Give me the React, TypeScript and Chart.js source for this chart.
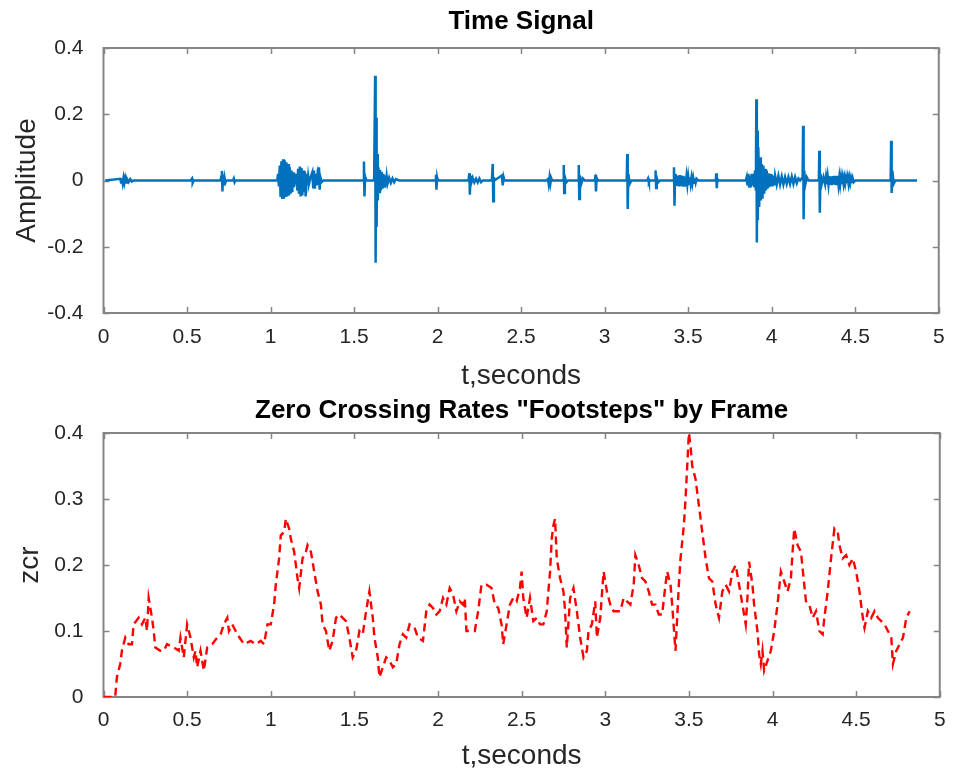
import React, { useEffect, useRef } from "react";
import { Chart, registerables } from "chart.js";

Chart.register(...registerables);

// ---- Time signal samples (seconds, amplitude) ----
const sigT = [
  0.01, 0.10, 0.105, 0.11, 0.115, 0.12, 0.125, 0.13, 0.135, 0.14, 0.15, 0.16, 0.17, 0.18,
  0.52, 0.53, 0.534, 0.54, 0.70, 0.705, 0.709, 0.712, 0.716, 0.72, 0.725, 0.73, 0.735, 0.775, 0.78, 0.785, 0.79,
  1.04, 1.045, 1.05, 1.055, 1.06, 1.065, 1.07, 1.075, 1.08, 1.085, 1.09, 1.095, 1.10, 1.105, 1.11, 1.115, 1.12, 1.125, 1.13, 1.135, 1.14, 1.145, 1.15,
  1.155, 1.16, 1.165, 1.17, 1.175, 1.18, 1.185, 1.19, 1.195, 1.20, 1.205, 1.21, 1.215, 1.22, 1.225, 1.23, 1.24, 1.25, 1.255, 1.26, 1.265, 1.27, 1.275, 1.28, 1.285, 1.29, 1.294, 1.298, 1.305, 1.315,
  1.555, 1.559, 1.562, 1.566, 1.57, 1.62, 1.626, 1.629, 1.632, 1.635, 1.638, 1.642, 1.646, 1.65, 1.655, 1.66, 1.665, 1.67, 1.675, 1.68, 1.685, 1.69, 1.695, 1.70, 1.71, 1.72, 1.73, 1.74, 1.75, 1.77,
  1.985, 1.99, 1.993, 1.997, 2.0, 2.185, 2.19, 2.193, 2.197, 2.20, 2.21, 2.22, 2.23, 2.24, 2.25, 2.26, 2.27, 2.325, 2.33, 2.333, 2.337, 2.34, 2.385, 2.39, 2.395, 2.40,
  2.655, 2.66, 2.665, 2.67, 2.675, 2.68, 2.685, 2.752, 2.755, 2.758, 2.762, 2.77, 2.78, 2.842, 2.845, 2.848, 2.852, 2.86, 2.87, 2.88, 2.942, 2.945, 2.948, 2.952, 2.96,
  3.132, 3.135, 3.138, 3.142, 3.15, 3.16, 3.255, 3.26, 3.265, 3.27, 3.302, 3.305, 3.308, 3.312, 3.32, 3.33,
  3.412, 3.415, 3.418, 3.422, 3.425, 3.43, 3.435, 3.44, 3.445, 3.45, 3.455, 3.46, 3.465, 3.47, 3.475, 3.48,
  3.485, 3.49, 3.495, 3.50, 3.505, 3.51, 3.515, 3.52, 3.525, 3.53, 3.535, 3.54, 3.545, 3.55, 3.56,
  3.665, 3.668, 3.671, 3.675, 3.68, 3.845, 3.85, 3.855, 3.86, 3.865, 3.87, 3.875, 3.88, 3.885, 3.89, 3.895, 3.90,
  3.905, 3.908, 3.911, 3.914, 3.917, 3.92, 3.925, 3.93, 3.935, 3.94, 3.945, 3.95, 3.955, 3.96, 3.965, 3.97, 3.975, 3.98, 3.985, 3.99, 3.995, 4.00, 4.005, 4.01, 4.015, 4.02,
  4.03, 4.04, 4.05, 4.06, 4.07, 4.08, 4.09, 4.10, 4.11, 4.12, 4.13, 4.14, 4.15, 4.16, 4.17,
  4.185, 4.188, 4.191, 4.195, 4.20, 4.21, 4.22, 4.282, 4.285, 4.288, 4.292, 4.30, 4.31, 4.32,
  4.325, 4.33, 4.335, 4.34, 4.345, 4.35, 4.355, 4.36, 4.365, 4.37, 4.375, 4.38, 4.385, 4.39, 4.395, 4.40, 4.405, 4.41,
  4.415, 4.42, 4.425, 4.43, 4.435, 4.44, 4.445, 4.45, 4.455, 4.46, 4.465, 4.47, 4.475, 4.48, 4.485, 4.49, 4.50,
  4.712, 4.715, 4.718, 4.722, 4.73, 4.74, 4.87,
];

const sigV = [
  0, 0.005, -0.006, 0.007, -0.008, 0.008, -0.007, 0.007, -0.006, 0.005, -0.005, 0.004, -0.003, 0,
  0, 0.006, -0.007, 0, 0, 0.012, 0.029, -0.033, 0.018, -0.015, 0.008, -0.006, 0, 0, 0.006, -0.005, 0,
  0, 0.02, -0.018, 0.045, -0.05, 0.058, -0.056, 0.064, -0.055, 0.06, -0.05, 0.055, -0.048, 0.05, -0.045, 0.04, -0.04, 0.03, -0.035, 0.025, -0.02, 0.015, -0.012,
  0.02, -0.03, 0.035, -0.04, 0.042, -0.048, 0.038, -0.045, 0.03, -0.035, 0.028, -0.048, 0.02, -0.015, 0.012, -0.01, 0.01, 0.025, -0.02, 0.03, -0.025, 0.02, -0.015, 0.012, -0.01, 0.04, -0.028, 0.01, -0.005, 0,
  0, 0.057, -0.048, 0.01, 0, 0, 0.316, -0.248, 0.19, -0.14, 0.08, -0.06, 0.04, -0.035, 0.032, -0.03, 0.026, -0.025, 0.02, -0.018, 0.016, -0.015, 0.012, -0.01, 0.008, -0.007, 0.006, -0.005, 0.004, 0,
  0, 0.017, -0.028, 0.008, 0, 0, 0.022, -0.043, 0.015, -0.01, 0.008, -0.006, 0.005, -0.006, 0.006, -0.005, 0, 0, 0.05, -0.063, 0.01, 0, 0.015, -0.015, 0.01, 0,
  0, 0.008, -0.01, 0.01, -0.009, 0.007, 0, 0, 0.047, -0.038, 0.01, -0.006, 0, 0, 0.047, -0.056, 0.015, -0.01, 0.006, 0, 0, 0.017, -0.033, 0.008, 0,
  0, 0.08, -0.086, 0.02, -0.01, 0, 0, 0.006, -0.005, 0, 0, 0.03, -0.023, 0.008, -0.006, 0,
  0, 0.04, -0.076, 0.02, -0.015, 0.014, -0.016, 0.015, -0.018, 0.016, -0.017, 0.015, -0.018, 0.014, -0.015, 0.012,
  -0.014, 0.012, -0.012, 0.012, -0.01, 0.01, -0.01, 0.009, -0.009, 0.008, -0.007, 0.007, -0.006, 0.005, 0,
  0, 0.022, -0.023, 0.005, 0, 0, 0.01, -0.015, 0.02, -0.018, 0.015, -0.02, 0.02, -0.015, 0.02, -0.02, 0.03,
  -0.03, 0.245, -0.187, 0.15, -0.12, 0.1, -0.08, 0.07, -0.06, 0.05, -0.055, 0.045, -0.04, 0.035, -0.03, 0.03, -0.025, 0.022, -0.02, 0.02, -0.018, 0.018, -0.018, 0.015, -0.015, 0.015,
  -0.012, 0.014, -0.012, 0.012, -0.012, 0.01, -0.01, 0.01, -0.01, 0.012, -0.01, 0.01, -0.008, 0.006, 0,
  0.01, 0.165, -0.117, 0.03, -0.015, 0.01, 0, 0, 0.09, -0.097, 0.02, -0.01, 0.01, -0.012,
  0.01, -0.011, 0.012, -0.012, 0.013, -0.013, 0.012, -0.014, 0.013, -0.012, 0.014, -0.013, 0.014, -0.014, 0.012, -0.013, 0.011, -0.012,
  0.01, -0.011, 0.009, -0.01, 0.008, -0.009, 0.008, -0.008, 0.009, -0.01, 0.008, -0.008, 0.007, -0.007, 0.006, -0.005, 0,
  0, 0.12, -0.038, 0.03, -0.01, 0, 0,
];

// ---- Zero crossing rate per frame (frame time in seconds, rate) ----
const zcrT = [
  0.00, 0.07, 0.08, 0.10, 0.11, 0.13, 0.15, 0.17, 0.18, 0.21,
  0.23, 0.25, 0.26, 0.27, 0.29, 0.30, 0.31, 0.34, 0.36, 0.38,
  0.42, 0.45, 0.46, 0.48, 0.50, 0.52, 0.54, 0.55, 0.56, 0.58,
  0.60, 0.62, 0.65, 0.68, 0.70, 0.72, 0.74, 0.75, 0.77, 0.80,
  0.84, 0.88, 0.91, 0.94, 0.96, 0.98, 1.00, 1.02, 1.03, 1.05,
  1.06, 1.08, 1.09, 1.11, 1.12, 1.14, 1.16, 1.17, 1.19, 1.21,
  1.22, 1.24, 1.26, 1.28, 1.30, 1.31, 1.33, 1.35, 1.37, 1.39,
  1.41, 1.43, 1.45, 1.47, 1.49, 1.51, 1.53, 1.55, 1.57, 1.59,
  1.61, 1.62, 1.64, 1.65, 1.67, 1.69, 1.71, 1.73, 1.75, 1.77,
  1.79, 1.81, 1.83, 1.86, 1.88, 1.91, 1.93, 1.95, 1.97, 1.99,
  2.01, 2.03, 2.05, 2.07, 2.09, 2.11, 2.13, 2.15, 2.16, 2.17,
  2.20, 2.22, 2.24, 2.26, 2.29, 2.32, 2.34, 2.36, 2.38, 2.39,
  2.41, 2.43, 2.45, 2.47, 2.49, 2.50, 2.51, 2.53, 2.55, 2.57,
  2.59, 2.61, 2.63, 2.65, 2.67, 2.68, 2.69, 2.70, 2.71, 2.73,
  2.75, 2.76, 2.77, 2.79, 2.81, 2.83, 2.85, 2.87, 2.89, 2.90,
  2.92, 2.94, 2.95, 2.97, 2.99, 3.01, 3.03, 3.05, 3.07, 3.09,
  3.11, 3.13, 3.15, 3.17, 3.18, 3.20, 3.22, 3.24, 3.26, 3.28,
  3.30, 3.32, 3.34, 3.36, 3.37, 3.39, 3.40, 3.42, 3.44, 3.45,
  3.47, 3.48, 3.49, 3.50, 3.51, 3.52, 3.54, 3.56, 3.58, 3.60,
  3.62, 3.64, 3.66, 3.68, 3.70, 3.72, 3.74, 3.76, 3.78, 3.80,
  3.82, 3.84, 3.85, 3.86, 3.88, 3.89, 3.91, 3.92, 3.93, 3.94,
  3.95, 3.97, 3.99, 4.01, 4.03, 4.05, 4.07, 4.09, 4.11, 4.12,
  4.13, 4.15, 4.17, 4.19, 4.20, 4.22, 4.24, 4.26, 4.28, 4.30,
  4.31, 4.33, 4.35, 4.37, 4.39, 4.40, 4.42, 4.44, 4.46, 4.48,
  4.50, 4.52, 4.54, 4.55, 4.57, 4.59, 4.61, 4.63, 4.65, 4.67,
  4.69, 4.71, 4.72, 4.74, 4.76, 4.78, 4.80, 4.82,
];

const zcrV = [
  0, 0, 0.03, 0.05, 0.07, 0.09, 0.08, 0.08, 0.11, 0.12,
  0.11, 0.12, 0.10, 0.15, 0.12, 0.10, 0.075, 0.07, 0.07, 0.08,
  0.075, 0.07, 0.09, 0.06, 0.11, 0.09, 0.06, 0.07, 0.045, 0.07,
  0.04, 0.075, 0.08, 0.09, 0.095, 0.11, 0.12, 0.10, 0.11, 0.095,
  0.08, 0.085, 0.08, 0.085, 0.08, 0.11, 0.11, 0.14, 0.17, 0.21,
  0.245, 0.25, 0.27, 0.255, 0.24, 0.22, 0.18, 0.165, 0.21, 0.22,
  0.23, 0.22, 0.19, 0.16, 0.14, 0.11, 0.10, 0.07, 0.085, 0.12,
  0.125, 0.12, 0.115, 0.09, 0.06, 0.07, 0.10, 0.095, 0.13, 0.16,
  0.12, 0.09, 0.06, 0.03, 0.045, 0.06, 0.055, 0.045, 0.05, 0.08,
  0.095, 0.09, 0.11, 0.105, 0.09, 0.085, 0.13, 0.14, 0.135, 0.125,
  0.13, 0.15, 0.14, 0.165, 0.155, 0.13, 0.145, 0.14, 0.15, 0.10,
  0.10, 0.10, 0.13, 0.17, 0.17, 0.165, 0.14, 0.135, 0.11, 0.08,
  0.11, 0.14, 0.15, 0.145, 0.165, 0.19, 0.15, 0.12, 0.15, 0.115,
  0.12, 0.11, 0.11, 0.13, 0.19, 0.24, 0.26, 0.27, 0.21, 0.18,
  0.16, 0.13, 0.075, 0.15, 0.165, 0.13, 0.09, 0.06, 0.07, 0.10,
  0.11, 0.145, 0.09, 0.12, 0.19, 0.16, 0.14, 0.13, 0.13, 0.13,
  0.15, 0.145, 0.14, 0.17, 0.215, 0.20, 0.18, 0.175, 0.16, 0.14,
  0.14, 0.125, 0.125, 0.17, 0.19, 0.17, 0.14, 0.07, 0.17, 0.21,
  0.26, 0.30, 0.35, 0.40, 0.38, 0.35, 0.33, 0.29, 0.25, 0.21,
  0.18, 0.175, 0.14, 0.12, 0.16, 0.17, 0.16, 0.19, 0.20, 0.17,
  0.14, 0.11, 0.15, 0.205, 0.17, 0.14, 0.10, 0.065, 0.05, 0.07,
  0.04, 0.055, 0.07, 0.10, 0.14, 0.19, 0.175, 0.16, 0.18, 0.22,
  0.255, 0.23, 0.22, 0.17, 0.145, 0.14, 0.12, 0.13, 0.10, 0.095,
  0.12, 0.16, 0.21, 0.255, 0.25, 0.23, 0.21, 0.215, 0.20, 0.21,
  0.19, 0.16, 0.12, 0.105, 0.13, 0.12, 0.13, 0.12, 0.115, 0.11,
  0.10, 0.09, 0.05, 0.07, 0.08, 0.09, 0.12, 0.13,
];

// ---- Axis ticks ----
const timeTicks = [0, 0.5, 1, 1.5, 2, 2.5, 3, 3.5, 4, 4.5, 5];
const ampTicks = [-0.4, -0.2, 0, 0.2, 0.4];
const zcrTicks = [0, 0.1, 0.2, 0.3, 0.4];

const FONT = "'Liberation Sans', Arial, Helvetica, sans-serif";
const TEXT = "#262626";
const FRAME = "#858585";
const SIGNAL_BLUE = "#0072BD";
const ZCR_RED = "#FF0000";

// Axes box with inward-pointing ticks on all four sides (drawn under the data)
const boxPlugin = {
  id: "axesBox",
  beforeDatasetsDraw(chart: any) {
    const { ctx, chartArea: a, scales } = chart;
    const len = 6;
    ctx.save();
    ctx.strokeStyle = FRAME;
    ctx.lineWidth = 1.5;
    ctx.beginPath();
    for (const tk of scales.x.ticks) {
      const px = Math.round(scales.x.getPixelForValue(tk.value)) + 0.5;
      ctx.moveTo(px, a.bottom);
      ctx.lineTo(px, a.bottom - len);
      ctx.moveTo(px, a.top);
      ctx.lineTo(px, a.top + len);
    }
    for (const tk of scales.y.ticks) {
      const py = Math.round(scales.y.getPixelForValue(tk.value)) + 0.5;
      ctx.moveTo(a.left, py);
      ctx.lineTo(a.left + len, py);
      ctx.moveTo(a.right, py);
      ctx.lineTo(a.right - len, py);
    }
    ctx.stroke();
    ctx.lineWidth = 2;
    ctx.strokeRect(a.left, a.top, a.right - a.left, a.bottom - a.top);
    ctx.restore();
  },
};

const tickSetter = (values: number[]) => (scale: any) => {
  scale.ticks = values.map((v) => ({ value: v }));
};

interface PanelSpec {
  title: string;
  titlePad: { top: number; bottom: number };
  xAxisHeight: number;
  xTickPad: number;
  xTitlePadBottom: number;
  yLabel: string;
  yTitlePad: number;
  yMin: number;
  yMax: number;
  yTicks: number[];
}

function buildOptions(p: PanelSpec): any {
  return {
    animation: false,
    responsive: false,
    maintainAspectRatio: false,
    events: [],
    layout: { padding: { top: 0, right: 11.5, bottom: 0, left: 0 } },
    plugins: {
      legend: { display: false },
      tooltip: { enabled: false },
      title: {
        display: true,
        text: p.title,
        fullSize: false,
        color: "#000",
        font: { family: FONT, size: 26, weight: "bold", lineHeight: 1.2 },
        padding: p.titlePad,
      },
    },
    scales: {
      x: {
        type: "linear",
        min: 0,
        max: 5,
        afterBuildTicks: tickSetter(timeTicks),
        afterFit: (s: any) => {
          s.height = p.xAxisHeight;
        },
        grid: { display: false, drawTicks: false },
        border: { display: false },
        ticks: {
          padding: p.xTickPad,
          color: TEXT,
          maxRotation: 0,
          autoSkip: false,
          font: { family: FONT, size: 21, lineHeight: 1.2 },
          callback: (v: number) => String(v),
        },
        title: {
          display: true,
          text: "t,seconds",
          color: TEXT,
          font: { family: FONT, size: 28, lineHeight: 1.2 },
          padding: { top: 0, bottom: p.xTitlePadBottom },
        },
      },
      y: {
        type: "linear",
        min: p.yMin,
        max: p.yMax,
        afterBuildTicks: tickSetter(p.yTicks),
        afterFit: (s: any) => {
          s.width = 103.5;
        },
        grid: { display: false, drawTicks: false },
        border: { display: false },
        ticks: {
          padding: 20,
          color: TEXT,
          autoSkip: false,
          font: { family: FONT, size: 21, lineHeight: 1.2 },
          callback: (v: number) => String(v),
        },
        title: {
          display: true,
          text: p.yLabel,
          color: TEXT,
          font: { family: FONT, size: 28, lineHeight: 1.2 },
          padding: { top: p.yTitlePad, bottom: 0 },
        },
      },
    },
  };
}

export default function App() {
  const topRef = useRef<HTMLCanvasElement | null>(null);
  const bottomRef = useRef<HTMLCanvasElement | null>(null);

  useEffect(() => {
    if (!topRef.current || !bottomRef.current) return;

    const signalChart = new Chart(topRef.current, {
      type: "line",
      data: {
        datasets: [
          {
            data: sigT.map((t, i) => ({ x: t, y: sigV[i] })),
            borderColor: SIGNAL_BLUE,
            borderWidth: 2.5,
            pointRadius: 0,
            tension: 0,
            fill: false,
          },
        ],
      },
      options: buildOptions({
        title: "Time Signal",
        titlePad: { top: 6.4, bottom: 10.4 },
        xAxisHeight: 85,
        xTickPad: 11.4,
        xTitlePadBottom: 5.2,
        yLabel: "Amplitude",
        yTitlePad: 10.2,
        yMin: -0.4,
        yMax: 0.4,
        yTicks: ampTicks,
      }),
      plugins: [boxPlugin],
    } as any);

    const zcrChart = new Chart(bottomRef.current, {
      type: "line",
      data: {
        datasets: [
          {
            data: zcrT.map((t, i) => ({ x: t, y: zcrV[i] })),
            borderColor: ZCR_RED,
            borderWidth: 2.4,
            borderDash: [8, 5],
            pointRadius: 0,
            tension: 0,
            fill: false,
          },
        ],
      },
      options: buildOptions({
        title: 'Zero Crossing Rates "Footsteps" by Frame',
        titlePad: { top: 7.4, bottom: 6.4 },
        xAxisHeight: 76,
        xTickPad: 10.4,
        xTitlePadBottom: 0,
        yLabel: "zcr",
        yTitlePad: 13.2,
        yMin: 0,
        yMax: 0.4,
        yTicks: zcrTicks,
      }),
      plugins: [boxPlugin],
    } as any);

    return () => {
      signalChart.destroy();
      zcrChart.destroy();
    };
  }, []);

  return (
    <div
      style={{
        position: "absolute",
        left: 0,
        top: 0,
        width: 956,
        height: 773,
        background: "#fff",
      }}
    >
      <canvas
        ref={topRef}
        width={956}
        height={398}
        style={{ position: "absolute", left: 0, top: 0 }}
      />
      <canvas
        ref={bottomRef}
        width={956}
        height={385}
        style={{ position: "absolute", left: 0, top: 388 }}
      />
    </div>
  );
}
